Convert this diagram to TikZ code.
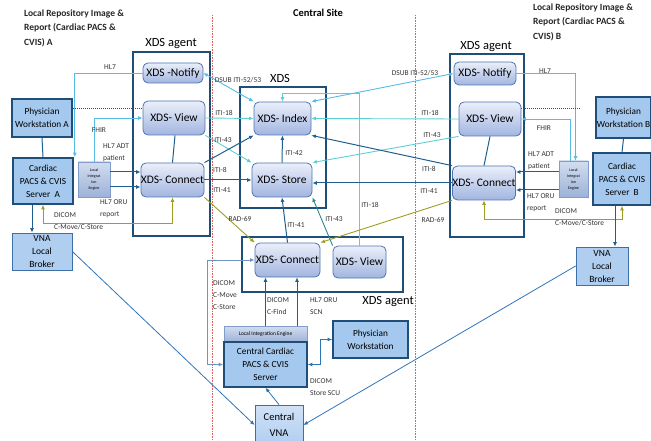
\documentclass[tikz,border=0pt]{standalone}
\usepackage{fontspec}
\setmainfont{Carlito}
\usetikzlibrary{arrows.meta,positioning,shadings}

\definecolor{agentblue}{HTML}{1F4E79}
\definecolor{boxfill}{HTML}{A4C8EE}
\definecolor{xdsdraw}{HTML}{4F74B0}
\definecolor{xdstop}{HTML}{EAEFFA}
\definecolor{xdsbot}{HTML}{A2B5E0}
\definecolor{brokerdraw}{HTML}{3C6FA6}
\definecolor{brokerfill}{HTML}{B0CEF0}
\definecolor{enginedraw}{HTML}{7F9CCB}
\definecolor{enginetop}{HTML}{D2DDEF}
\definecolor{enginebot}{HTML}{9DB2D8}
\definecolor{skyline}{HTML}{55BDE5}
\definecolor{turqline}{HTML}{5CCFD3}
\definecolor{darkline}{HTML}{1F5F8F}
\definecolor{oliveline}{HTML}{9E9E22}
\definecolor{tealline}{HTML}{2A8A8F}
\definecolor{steelline}{HTML}{6F94BF}
\definecolor{midline}{HTML}{2E75B6}
\definecolor{siteline}{HTML}{E06060}
\definecolor{labelgray}{HTML}{333333}

\begin{document}
\begin{tikzpicture}[x=1pt,y=-1pt,>={Latex[length=4.5pt,width=4pt]},
    xds/.style={draw=xdsdraw,line width=0.8pt,rounded corners=5pt,top color=xdstop,bottom color=xdsbot,inner sep=0pt,font=\fontsize{11.5}{13}\selectfont},
    sitebox/.style={draw=agentblue,line width=1.6pt,fill=boxfill,align=center,inner sep=0pt,font=\fontsize{9.3}{13}\selectfont},
    broker/.style={draw=brokerdraw,line width=0.8pt,fill=brokerfill,align=center,inner sep=0pt,font=\fontsize{9.5}{13}\selectfont},
    engine/.style={draw=enginedraw,line width=0.5pt,top color=enginetop,bottom color=enginebot,align=center,inner sep=0pt},
    frame/.style={draw=agentblue,line width=1.6pt},
    headtxt/.style={font=\fontsize{12.5}{14}\selectfont,inner sep=0pt},
    sitetitle/.style={font=\bfseries\fontsize{9.5}{14.5}\selectfont,align=left,inner sep=0pt,text=black!85},
    lbl/.style={font=\fontsize{7.5}{12}\selectfont,text=labelgray,inner sep=0pt,align=left},
    linesky/.style={draw=skyline,line width=0.9pt},
    lineturq/.style={draw=turqline,line width=0.9pt},
    linedark/.style={draw=darkline,line width=1pt},
    lineolive/.style={draw=oliveline,line width=0.9pt},
    lineteal/.style={draw=tealline,line width=0.9pt},
    linesteel/.style={draw=steelline,line width=0.9pt},
    linemid/.style={draw=midline,line width=0.8pt},
    dotline/.style={draw=black!70,line width=0.6pt,dash pattern=on 0.8pt off 1.2pt}]

    \useasboundingbox (0,0) rectangle (651,441);

    % titles and site borders
    \node[sitetitle,anchor=north west] (titleA) at (24,9.5) {Local Repository Image \&\\Report (Cardiac PACS \&\\CVIS) A};
    \node[sitetitle,anchor=north west] (titleB) at (533,3.5) {Local Repository Image \&\\Report (Cardiac PACS \&\\CVIS) B};
    \node[font=\bfseries\fontsize{10.5}{12}\selectfont,inner sep=0pt] (titleC) at (318,13) {Central Site};

    \draw[siteline,line width=0.8pt,dash pattern=on 0.8pt off 0.8pt] (212,15) -- (212,441);
    \draw[siteline,line width=0.8pt,dash pattern=on 0.8pt off 0.8pt] (415,15) -- (415,441);

    % frames
    \draw[frame] (133,52) rectangle (210,236);
    \draw[frame] (240,87) rectangle (326,208);
    \draw[frame] (242,237) rectangle (403,292);
    \draw[frame] (450,54) rectangle (524,237);
    \node[headtxt] (agentA) at (171,44) {XDS agent};
    \node[headtxt] (xdsC) at (280,78) {XDS};
    \node[headtxt] (agentC) at (388,302) {XDS agent};
    \node[headtxt] (agentB) at (486,47) {XDS agent};

    % site A
    \node[xds,minimum width=60,minimum height=20] (notA) at (173,73) {XDS -Notify};
    \node[xds,minimum width=62,minimum height=34] (viewA) at (174,118) {XDS- View};
    \node[xds,minimum width=59,minimum height=34] (conA) at (172.5,180) {XDS- Connect};
    \node[sitebox,minimum width=60,minimum height=38] (pwA) at (42,118) {Physician\\Workstation A};
    \node[sitebox,minimum width=60,minimum height=46] (pacsA) at (43,181) {Cardiac\\PACS \& CVIS\\Server~~A};
    \node[broker,minimum width=60,minimum height=37] (vnaA) at (42,251.5) {VNA\\Local\\Broker};
    \node[engine,minimum width=32,minimum height=35,font=\fontsize{4}{6}\selectfont] (lieA) at (94,179.5) {Local\\Integrat\\ion\\Engine};

    % central
    \node[xds,minimum width=57,minimum height=33] (idx) at (282.5,118.5) {XDS- Index};
    \node[xds,minimum width=60,minimum height=34] (sto) at (282,180) {XDS- Store};
    \node[xds,minimum width=65,minimum height=34] (conC) at (287.5,260) {XDS- Connect};
    \node[xds,minimum width=53,minimum height=32] (viewC) at (359.5,262) {XDS- View};
    \node[engine,minimum width=83,minimum height=16,font=\fontsize{5.5}{6}\selectfont] (lieC) at (265.5,334) {Local Integration Engine};
    \node[sitebox,minimum width=83,minimum height=45] (pacsC) at (265.5,364.5) {Central Cardiac\\PACS \& CVIS\\Server};
    \node[sitebox,minimum width=75,minimum height=37] (pwC) at (370.5,339.5) {Physician\\Workstation};
    \node[broker,minimum width=48,minimum height=40,top color=brokerfill!60,bottom color=brokerfill,font=\fontsize{10.5}{16}\selectfont] (vnaC) at (279,425) {Central\\VNA};

    % site B
    \node[xds,minimum width=62,minimum height=23] (notB) at (485,73.5) {XDS- Notify};
    \node[xds,minimum width=62,minimum height=34] (viewB) at (490,119) {XDS- View};
    \node[xds,minimum width=62,minimum height=34] (conB) at (484,183) {XDS- Connect};
    \node[sitebox,minimum width=55,minimum height=41] (pwB) at (623.5,117.5) {Physician\\Workstation B};
    \node[sitebox,minimum width=58,minimum height=52] (pacsB) at (622,179) {Cardiac\\PACS \& CVIS\\Server~~B};
    \node[broker,minimum width=52,minimum height=38] (vnaB) at (602,266) {VNA\\Local\\Broker};
    \node[engine,minimum width=29,minimum height=36,font=\fontsize{4}{6}\selectfont] (lieB) at (573.5,179) {Local\\Integrat\\ion\\Engine};
    \coordinate (dotB) at (580,108);

    % site A links
    \draw[linesky,->] (notA.west) -| ([xshift=1pt]pacsA.north east);
    \draw[linesky,->] (lieA.north) |- (viewA.west);
    \draw[dotline] ([yshift=10pt]pwA.east) -- ([yshift=10pt]pwA.east -| viewA.west);
    \draw[linedark] (pwA.south) -- (pacsA.north);
    \draw[linedark,->] ([yshift=7.5pt]lieA.east) -- ([yshift=7.5pt]lieA.east -| conA.west);
    \draw[linedark,->] ([yshift=-7.5pt]lieA.east) -- ([yshift=-7.5pt]lieA.east -| conA.west);
    \draw[lineolive,<->] (pacsA.south) -- ++(0,19) -| (conA.south);
    \draw[linedark,->] ([xshift=-11pt]pacsA.south) -- ([xshift=-10pt]vnaA.north);
    \draw[linemid,->] (vnaA.east) -- (vnaC.west);
    \draw[linedark] ([xshift=1pt]viewA.south) -- (conA.north);

    \node[lbl] (hl7A) at (110,67) {HL7};
    \node[lbl] (fhirA) at (99,130) {FHIR};
    \node[lbl,anchor=north west] (adtA) at (103,143) {HL7 ADT\\patient};
    \node[lbl,anchor=north west] (oruA) at (100,199) {HL7 ORU\\report};
    \node[lbl,anchor=north west] (dicomA) at (54,212) {DICOM\\C-Move/C-Store};

    % site A to central
    \draw[linesky,<->] (notA.east) -- (idx.north west);
    \draw[lineturq,->] (viewA.east) -- (idx.west);
    \draw[lineturq,->] (viewA.south east) -- (sto.north west);
    \draw[linedark,->] (conA.north east) -- (idx.south west);
    \draw[linedark,->] (conA.east) -- (sto.west);
    \draw[lineolive,->] (conA.south east) -- (conC.north west);

    \node[lbl] (dsubA) at (238,80) {DSUB ITI-52/53};
    \node[lbl] (i18A) at (224,113) {ITI-18};
    \node[lbl] (i43A) at (223,140) {ITI-43};
    \node[lbl] (i8A) at (220,170) {ITI-8};
    \node[lbl] (i41A) at (222,190) {ITI-41};
    \node[lbl] (radA) at (240,219) {RAD-69};

    % central links
    \draw[linedark,->] (sto.north) -- (idx.south);
    \draw[lineturq,->] (viewC.north) -- ++(0,-152) -| (idx.north);
    \draw[linedark,->] (conC.north) -- (sto.south);
    \draw[lineteal,->] (viewC.north west) -- (sto.south east);
    \draw[linesteel,<->] (pacsC.west) -- ++(-16,0) |- (conC.west);
    \draw[linedark,->] (lieC.north) -- (lieC.north |- conC.south);
    \draw[linedark,->] ([xshift=31.5pt]lieC.north) -- ([xshift=31.5pt]lieC.north |- conC.south);
    \draw[linemid,<->] (pacsC.east) -- ++(13,0) |- (pwC.west);
    \draw[linemid,->] (vnaC.north) -- (pacsC.south);

    \node[lbl] (i42C) at (294,153) {ITI-42};
    \node[lbl] (i18C) at (370,205) {ITI-18};
    \node[lbl] (i41C) at (296,225) {ITI-41};
    \node[lbl] (i43C) at (334,219) {ITI-43};
    \node[lbl,anchor=north west] (dicomC) at (213,280) {DICOM\\C-Move\\C-Store};
    \node[lbl,anchor=north west] (findC) at (267,297) {DICOM\\C-Find};
    \node[lbl,anchor=north west] (scnC) at (310,297) {HL7 ORU\\SCN};
    \node[lbl,anchor=north west] (scuC) at (310,378) {DICOM\\Store SCU};

    % site B to central
    \draw[linesky,<->] (notB.west) -- (idx.north east);
    \draw[lineturq,->] (viewB.west) -- (idx.east);
    \draw[lineturq,->] (viewB.south west) -- (sto.north east);
    \draw[linedark,->] (conB.north west) -- (idx.south east);
    \draw[linedark,->] (conB.west) -- (conB.west -| sto.east);
    \draw[lineolive,->] (conB.south west) -- (conC.north east);

    \node[lbl] (dsubB) at (415,73) {DSUB ITI-52/53};
    \node[lbl] (i18B) at (430,113) {ITI-18};
    \node[lbl] (i43B) at (432,135) {ITI-43};
    \node[lbl] (i8B) at (429,169) {ITI-8};
    \node[lbl] (i41B) at (429,191) {ITI-41};
    \node[lbl] (radB) at (433,220) {RAD-69};

    % site B links
    \draw[linesky,->] (notB.east) -| ([xshift=2pt]lieB.north);
    \draw[linesky,->] ([xshift=-3pt]lieB.north) |- (viewB.east);
    \draw[dotline] ([yshift=11pt]viewB.east) -- (dotB);
    \draw[linedark,->] ([yshift=7pt]lieB.west) -- ([yshift=7pt]lieB.west -| conB.east);
    \draw[linedark,->] ([yshift=-11pt]lieB.west) -- ([yshift=-11pt]lieB.west -| conB.east);
    \draw[lineolive,<->] (pacsB.south) -- ++(0,14) -| (conB.south);
    \draw[linedark] (pwB.south) -- (pacsB.north);
    \draw[linedark,->] ([xshift=-7pt]pacsB.south) -- ([xshift=-7pt]pacsB.south |- vnaB.north);
    \draw[linemid,->] (vnaB.west) -- (vnaC.east);
    \draw[linedark] (viewB.south) -- (conB.north);

    \node[lbl] (hl7B) at (545,71) {HL7};
    \node[lbl] (fhirB) at (544,128) {FHIR};
    \node[lbl,anchor=north west] (adtB) at (528,151) {HL7 ADT\\patient};
    \node[lbl,anchor=north west] (oruB) at (527,193) {HL7 ORU\\report};
    \node[lbl,anchor=north west] (dicomB) at (555,208) {DICOM\\C-Move/C-Store};

\end{tikzpicture}
\end{document}
